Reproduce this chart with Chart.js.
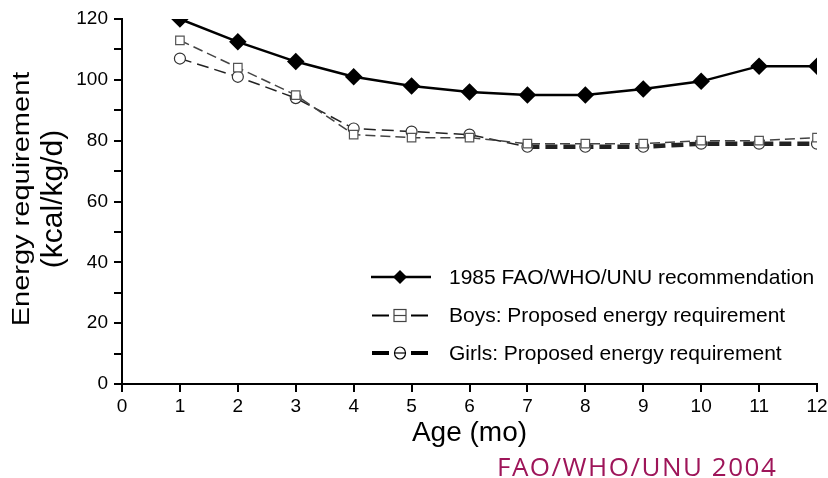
<!DOCTYPE html>
<html>
<head>
<meta charset="utf-8">
<script src="https://cdn.jsdelivr.net/npm/chart.js@4"></script>
<style>
  html, body { margin: 0; padding: 0; background: #fff; }
  #wrap { position: relative; width: 828px; height: 478px; }
  #source {
    position: absolute; left: 497px; top: 453px; line-height: 27px;
    font-family: "Open Sans", "DejaVu Sans", sans-serif; font-size: 26px;
    color: #9e1559; letter-spacing: 1.5px;
  }
</style>
</head>
<body>
<div id="wrap">
  <canvas id="energyChart" width="828" height="478"></canvas>
  <div id="source">FAO/WHO/UNU 2004</div>
</div>
<script>
// Energy requirement by age (months)
const ages = [1, 2, 3, 4, 5, 6, 7, 8, 9, 10, 11, 12];
const fao1985 = [120, 112.5, 106, 101, 98, 96, 95, 95, 97, 99.5, 104.5, 104.5];
const boys = [113, 104, 95, 82, 81, 81, 79, 79, 79, 80, 80, 81];
const girls = [107, 101, 94, 84, 83, 82, 78, 78, 78, 79, 79, 79];

const legendLabels = [
  "1985 FAO/WHO/UNU recommendation",
  "Boys: Proposed energy requirement",
  "Girls: Proposed energy requirement",
];

const toPoints = (vals) => ages.map((a, i) => ({ x: a, y: vals[i] }));
const FONT = "'Liberation Sans', Arial, sans-serif";

// y title + legend drawn by hand (legend sits inside the plot)
const extrasPlugin = {
  id: "extras",
  afterDraw(chart) {
    const ctx = chart.ctx;
    ctx.save();
    ctx.fillStyle = "#000";
    ctx.textAlign = "center";
    ctx.textBaseline = "alphabetic";

    ctx.save();
    ctx.translate(29, 199);
    ctx.rotate(-Math.PI / 2);
    ctx.scale(1, 0.8);
    ctx.font = "29px " + FONT;
    ctx.fillText("Energy requirement", 0, 0);
    ctx.restore();

    ctx.save();
    ctx.translate(62, 199);
    ctx.rotate(-Math.PI / 2);
    ctx.font = "30px " + FONT;
    ctx.fillText("(kcal/kg/d)", 0, 0);
    ctx.restore();

    // legend
    const rows = [277, 315.5, 353];
    ctx.textAlign = "left";
    ctx.textBaseline = "middle";
    ctx.font = "21px " + FONT;
    rows.forEach((y, i) => {
      const cx = 400;
      ctx.strokeStyle = "#000";
      if (i === 0) {
        ctx.lineWidth = 2.5;
        ctx.beginPath(); ctx.moveTo(371, y); ctx.lineTo(431, y); ctx.stroke();
        ctx.fillStyle = "#000";
        ctx.beginPath();
        ctx.moveTo(cx, y - 7); ctx.lineTo(cx + 7, y); ctx.lineTo(cx, y + 7); ctx.lineTo(cx - 7, y);
        ctx.closePath(); ctx.fill();
      } else {
        ctx.lineWidth = i === 1 ? 1.8 : 4;
        ctx.beginPath();
        ctx.moveTo(372, y); ctx.lineTo(389, y);
        ctx.moveTo(411, y); ctx.lineTo(428, y);
        ctx.stroke();
        ctx.lineWidth = 1.2;
        ctx.fillStyle = "#fff";
        if (i === 1) {
          ctx.strokeStyle = "#444";
          ctx.fillRect(cx - 6, y - 6, 12, 12);
          ctx.strokeRect(cx - 6, y - 6, 12, 12);
        } else {
          ctx.beginPath(); ctx.ellipse(cx, y, 5.5, 6, 0, 0, Math.PI * 2); ctx.fill(); ctx.stroke();
        }
        ctx.beginPath(); ctx.moveTo(cx - 6, y); ctx.lineTo(cx + 6, y); ctx.stroke();
      }
      ctx.fillStyle = "#000";
      ctx.fillText(legendLabels[i], 449, y + 1);
    });
    ctx.restore();
  },
};

new Chart(document.getElementById("energyChart"), {
  type: "line",
  data: {
    datasets: [
      {
        label: legendLabels[1],
        data: toPoints(boys),
        borderColor: "#444",
        borderWidth: 1.5,
        borderDash: [10, 5],
        pointStyle: "rect",
        pointRadius: 6,
        pointBackgroundColor: "#fff",
        pointBorderColor: "#555",
        pointBorderWidth: 1.2,
      },
      {
        label: legendLabels[2],
        data: toPoints(girls),
        borderColor: "#222",
        borderWidth: 1.5,
        borderDash: [12, 6],
        segment: {
          borderWidth: (c) => (c.p0DataIndex >= 6 ? 4.5 : 1.5),
        },
        pointStyle: "circle",
        pointRadius: 5.5,
        pointBackgroundColor: "#fff",
        pointBorderColor: "#333",
        pointBorderWidth: 1.2,
      },
      {
        label: legendLabels[0],
        data: toPoints(fao1985),
        borderColor: "#000",
        borderWidth: 2.5,
        pointStyle: "rectRot",
        pointRadius: 7,
        pointBackgroundColor: "#000",
        pointBorderColor: "#000",
      },
    ],
  },
  options: {
    responsive: false,
    animation: false,
    layout: { padding: { left: 0, right: 11, top: 19, bottom: 0 } },
    plugins: { legend: { display: false }, tooltip: { enabled: false } },
    scales: {
      x: {
        type: "linear",
        min: 0,
        max: 12,
        afterFit: (scale) => { scale.height = 94; scale.paddingRight = 0; scale.paddingLeft = 0; },
        ticks: { stepSize: 1, color: "#000", font: { family: FONT, size: 19 }, padding: 3 },
        grid: { drawOnChartArea: false, drawTicks: true, tickLength: 8, color: "#000", lineWidth: 2 },
        border: { color: "#000", width: 2 },
        title: {
          display: true, text: "Age (mo)", color: "#000",
          font: { family: FONT, size: 28, lineHeight: 1.2 },
          padding: { top: 0, bottom: 28 },
        },
      },
      y: {
        min: 0,
        max: 120,
        afterFit: (scale) => { scale.width = 122; },
        ticks: {
          stepSize: 10,
          color: "#000",
          font: { family: FONT, size: 19 },
          padding: 6,
          callback: (v) => (v % 20 === 0 ? v : ""),
        },
        grid: { drawOnChartArea: false, drawTicks: true, tickLength: 8, color: "#000", lineWidth: 2 },
        border: { color: "#000", width: 2 },
      },
    },
  },
  plugins: [extrasPlugin],
});
</script>
</body>
</html>
